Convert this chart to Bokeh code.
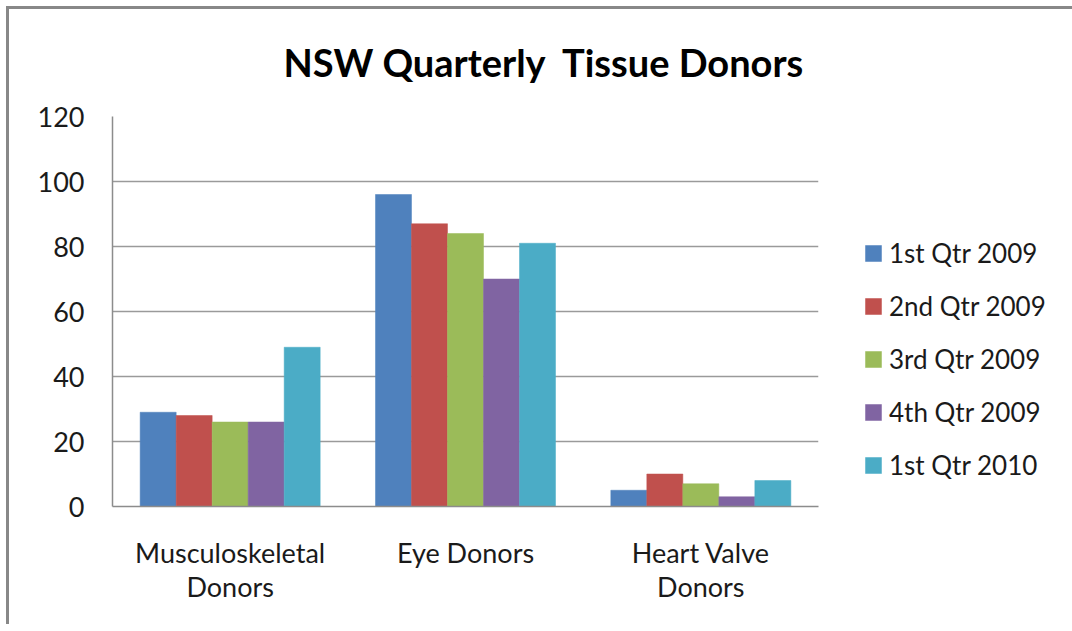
from bokeh.plotting import figure
from bokeh.models import ColumnDataSource, FactorRange, Legend, LegendItem, FixedTicker, Range1d
from bokeh.transform import dodge
from bokeh.embed import file_html
from bokeh.resources import INLINE

categories = ["Musculoskeletal\nDonors", "Eye Donors", "Heart Valve\nDonors"]
series_names = ["1st Qtr 2009", "2nd Qtr 2009", "3rd Qtr 2009", "4th Qtr 2009", "1st Qtr 2010"]
q1_2009 = [29, 96, 5]
q2_2009 = [28, 87, 10]
q3_2009 = [26, 84, 7]
q4_2009 = [26, 70, 3]
q1_2010 = [49, 81, 8]
colors = ["#4F81BD", "#C0504D", "#9BBB59", "#8064A2", "#4BACC6"]
y_ticks = [0, 20, 40, 60, 80, 100, 120]

FONT = "Lato"

data = {"cat": categories, "s0": q1_2009, "s1": q2_2009, "s2": q3_2009, "s3": q4_2009, "s4": q1_2010}
source = ColumnDataSource(data)

p = figure(
    frame_width=706, frame_height=390,
    x_range=FactorRange(*categories, range_padding=0),
    y_range=Range1d(0, 120),
    output_backend="svg", toolbar_location=None,
    min_border_left=112, min_border_right=242, min_border_top=116, min_border_bottom=118,
)
p.border_fill_color = None
p.background_fill_color = "white"
p.styles = {
    "background-color": "white",
    "background-image": "linear-gradient(#888888, #888888), linear-gradient(#888888, #888888)",
    "background-size": "3px 100%, 100% 3px",
    "background-position": "6px 6px, 6px 6px",
    "background-repeat": "no-repeat",
}

bw = 0.153
renderers = []
for i, name in enumerate(series_names):
    r = p.vbar(x=dodge("cat", (i - 2) * bw, range=p.x_range), top="s%d" % i, width=bw,
               source=source, fill_color=colors[i], line_color=colors[i], line_width=0.5)
    renderers.append(r)

p.title.text = "NSW Quarterly\u00a0 Tissue Donors"
p.title.text_font = FONT
p.title.text_font_size = "38px"
p.title.text_font_style = "bold"
p.title.text_color = "#000000"
p.title.align = "left"
p.title.offset = 171
p.title.standoff = 63

p.outline_line_color = None
p.xgrid.grid_line_color = None
p.ygrid.grid_line_color = "#9a9a9a"
p.ygrid.grid_line_width = 1.3
p.yaxis.ticker = FixedTicker(ticks=y_ticks)

for ax in (p.xaxis, p.yaxis):
    ax.axis_line_color = "#8c8c8c"
    ax.axis_line_width = 1.5
    ax.major_tick_line_color = None
    ax.minor_tick_line_color = None
    ax.major_label_text_font = FONT
    ax.major_label_text_color = "#1a1a1a"

p.yaxis.major_label_text_font_size = "27px"
p.xaxis.major_label_text_font_size = "27px"
p.yaxis.major_label_standoff = 22
p.xaxis.major_label_standoff = 23
p.xaxis.major_label_text_line_height = 1.05

items = [LegendItem(label=name, renderers=[renderers[i]]) for i, name in enumerate(series_names)]
legend = Legend(items=items, location=(45, 25), padding=0, margin=0,
                glyph_width=20, glyph_height=20, label_height=31, spacing=21,
                label_standoff=6, label_text_font=FONT, label_text_font_size="26px",
                label_text_color="#1a1a1a", border_line_color=None, background_fill_alpha=0)
p.add_layout(legend, "right")

open("out.html", "w").write(file_html(p, INLINE))
